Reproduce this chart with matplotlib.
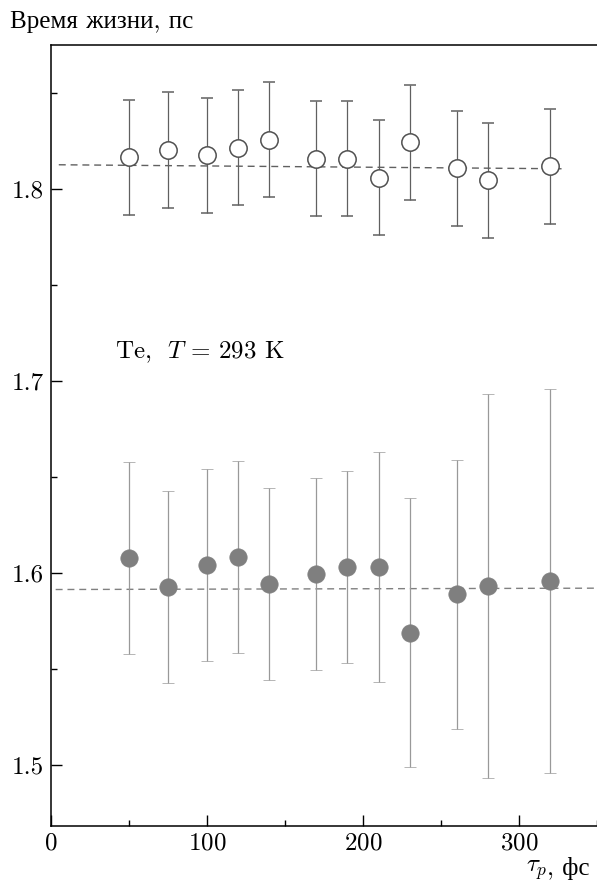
import matplotlib
matplotlib.use("Agg")
import matplotlib.pyplot as plt
from matplotlib.ticker import MultipleLocator, FormatStrFormatter

plt.rcParams["font.family"] = ["cmr10", "Liberation Serif"]
plt.rcParams["mathtext.fontset"] = "cm"
plt.rcParams["axes.formatter.use_mathtext"] = True

# pulse duration tau_p, fs
tau = [50, 75, 100, 120, 140, 170, 190, 210, 230, 260, 280, 320]

# upper series (open circles), lifetime ps
life_up = [1.8165, 1.8204, 1.8177, 1.8216, 1.8257, 1.8158, 1.8159,
           1.8059, 1.8243, 1.8109, 1.8047, 1.8118]
err_up = [0.03] * 12

# lower series (filled circles)
life_lo = [1.6081, 1.5930, 1.6043, 1.6083, 1.5943, 1.5998, 1.6034,
           1.6031, 1.5691, 1.5891, 1.5934, 1.5958]
err_lo = [0.05, 0.05, 0.05, 0.05, 0.05, 0.05, 0.05, 0.06, 0.07, 0.07, 0.10, 0.10]

# dashed fit lines (endpoints)
fit_up_x = [5, 330]
fit_up_y = [1.8127, 1.8106]
fit_lo_x = [3, 350]
fit_lo_y = [1.5915, 1.5922]

fig = plt.figure(figsize=(5.97, 8.85), dpi=100)
ax = fig.add_axes([0.0854, 0.067, 0.9146, 0.882])

ax.plot(fit_up_x, fit_up_y, ls=(0, (5, 3.5)), color="#606060", lw=1.0, zorder=1)
ax.plot(fit_lo_x, fit_lo_y, ls=(0, (5, 3.5)), color="#808080", lw=1.0, zorder=1)

ax.errorbar(tau, life_up, yerr=err_up, fmt="o", ms=12.5, mfc="white",
            mec="#505050", mew=1.1, ecolor="#606060", elinewidth=0.9,
            capsize=4, capthick=0.9, zorder=3)
ax.errorbar(tau, life_lo, yerr=err_lo, fmt="o", ms=12.5, mfc="#7f7f7f",
            mec="#7f7f7f", mew=0.5, ecolor="#999999", elinewidth=0.9,
            capsize=4, capthick=0.9, zorder=3)

ax.set_xlim(0, 350)
ax.set_ylim(1.4685, 1.875)
ax.xaxis.set_major_locator(MultipleLocator(100))
ax.xaxis.set_minor_locator(MultipleLocator(50))
ax.yaxis.set_major_locator(MultipleLocator(0.1))
ax.yaxis.set_minor_locator(MultipleLocator(0.05))
ax.yaxis.set_major_formatter(FormatStrFormatter("%.1f"))

ax.spines["right"].set_visible(False)
for s in ("left", "bottom", "top"):
    ax.spines[s].set_linewidth(1.1)
ax.tick_params(which="both", direction="in", top=False, right=False,
               labelsize=18, width=1.0)
ax.tick_params(which="major", length=8, pad=5)
ax.tick_params(which="minor", length=4)

ax.text(0.117, 0.607, r"Te,  $T$ = 293 K", transform=ax.transAxes,
        fontsize=18, ha="left", va="center")

fig.text(0.016, 0.975, "Время жизни, пс", fontsize=18, ha="left", va="center")
fig.text(0.917, 0.017, r"$\tau_p$", fontsize=18, ha="right", va="center")
fig.text(0.917, 0.019, ", фс", fontsize=18, ha="left", va="center")

fig.savefig("out.png", dpi=100)
